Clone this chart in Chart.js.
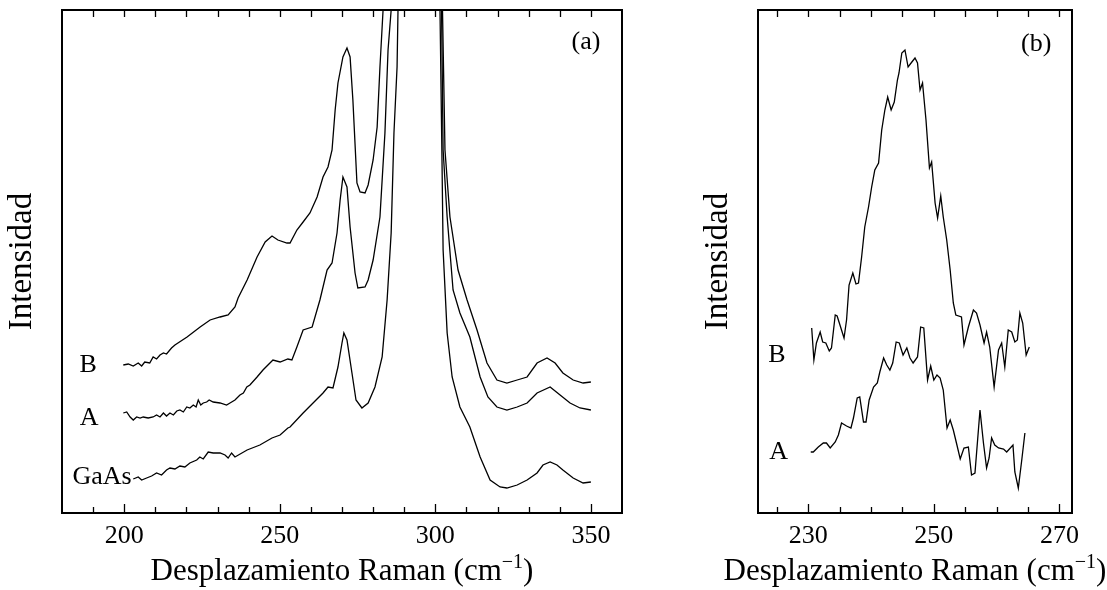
<!DOCTYPE html>
<html>
<head>
<meta charset="utf-8">
<script src="https://cdn.jsdelivr.net/npm/chart.js@4"></script>
<style>
  html, body { margin: 0; padding: 0; background: #fff; }
  #wrap { position: relative; width: 1107px; height: 590px; }
  #ca { position: absolute; left: 0; top: 0; }
  #cb { position: absolute; left: 680px; top: 0; }
</style>
</head>
<body>
<div id="wrap">
  <canvas id="ca" width="650" height="590"></canvas>
  <canvas id="cb" width="427" height="590"></canvas>
</div>
<script>
// Panel (a): espectros Raman completos (intensidad en unidades arbitrarias)
const aB_x = [199.7,201.3,202.9,204.5,205.6,206.6,208.2,209.3,210.4,211.5,212.6,213.6,215.2,216.3,220.2,224.4,227.6,230.8,233.4,235.6,236.6,239.5,242.7,245.3,247.5,249.4,252.3,253.3,255.5,257.5,259.7,262,263.9,265.5,266.8,267.8,268.7,270.3,271.6,272.6,273.5,274.8,275.8,277.4,278.4,280,281.3,282.2,283.2,285,292,299,302.3,303.1,304.7,307.3,310.2,313.4,316.6,319.8,323,326.3,329.5,332.7,335.9,338.5,341,344.3,347.5,350];
const aB_y = [148,149,147,150,147,151,150,156,154,158,160,159,165,168,176,186,193,196,198,206,215,233,256,271,277,273,270,270,283,291,300,316,336,346,363,403,430,456,465,456,413,330,321,320,328,353,386,446,503,650,1100,650,503,363,296,243,213,183,150,133,130,133,136,150,155,150,140,133,130,131];

const aA_x = [199.7,200.8,201.9,202.9,204,205.1,206.1,207.7,209.3,210.4,211.5,212.6,213.6,214.7,215.8,216.9,217.9,219,220.1,221.1,222.2,223.1,223.8,224.6,225.4,226.5,227.3,228.6,230.8,232.9,234,235.6,237.2,238.3,239.4,240.4,242.7,244.6,247.8,250.1,252.6,253.9,255.5,257.5,260.4,262.9,265.2,266.8,268.4,269.4,270.3,271.6,272.6,274.2,275.1,277.4,278.4,280,282.2,283.8,284.8,285.8,287,293,299.5,302,302.5,303.8,305.7,307.9,311.1,314.4,316.9,319.8,323,326.3,329.5,332.7,336.9,340.1,343.3,346.5,350];
const aA_y = [100,101,96,93,96,95,96,95,96,98,96,100,97,100,98,102,103,101,106,105,108,106,113,108,110,111,113,111,110,108,110,113,118,120,126,128,136,143,153,151,154,153,166,183,186,213,243,250,280,313,336,326,286,240,225,226,233,253,296,380,463,503,650,1100,650,503,363,296,223,200,176,136,116,106,103,106,110,120,126,118,110,105,103];

const aG_x = [202.9,204.5,205.6,207.2,208.8,210.4,212,213.6,214.7,216.3,217.9,219.5,221.1,223.3,224.3,225.4,227,228.6,230.8,232.4,233.4,234.5,235.6,239.5,243.6,247.5,250.1,252.6,253.3,257.5,260.7,263.9,265.5,267.1,268.7,270,270.6,271.6,273.2,274.5,276.4,278.4,280.6,282.9,284.5,285.8,286.7,287.7,288,289,294,299.5,301.5,302.1,302.5,303.8,305.4,307.9,311.1,314.4,317.6,320.8,323,326.3,329.5,332.7,334.6,336.9,339.1,341,344.3,347.5,350];
const aG_y = [34,36,33,35,37,40,38,43,45,44,47,46,50,53,56,54,61,60,60,58,55,60,56,63,68,75,78,85,86,100,110,120,126,125,146,170,180,173,140,113,105,110,126,156,213,280,380,446,503,650,1100,650,503,363,263,180,136,106,86,56,33,26,25,28,33,40,48,51,48,43,35,30,31];

// Panel (b): zona 230-265 cm-1
const bB_x = [230.55,230.9,231.3,231.9,232.3,232.8,233.35,233.7,234.3,234.6,235.2,235.7,236.1,236.5,237.1,237.6,238,238.5,239,239.6,240.1,240.6,241.2,241.7,242.2,242.65,243.2,243.7,244.2,244.45,244.9,245.4,245.9,246.5,247,247.4,247.8,248.2,248.75,249.3,249.65,250.2,250.6,251.1,251.5,252.05,252.6,253.1,253.5,254.4,254.8,255.5,256.3,256.8,257.35,258,258.4,258.9,259.6,260.3,260.8,261.3,261.85,262.4,262.9,263.3,263.7,264.15,264.7,265.2];
const bB_y = [185,153,170,181,171,170,162,165,198,197,185,175,193,228,240,229,230,256,286,306,326,343,350,383,403,416,403,411,433,440,460,463,446,451,455,450,423,430,393,345,351,310,295,317,296,273,243,210,198,196,168,186,203,200,188,170,181,166,126,163,170,146,183,181,171,173,200,190,158,166];

const bA_x = [230.4,230.8,231.6,232.4,232.9,233.5,234.3,234.8,235.3,236.1,236.8,237.2,237.8,238.2,238.8,239.2,239.7,240.4,241,241.4,242,242.5,243,243.45,244,244.5,245.1,245.7,246.2,246.7,247.4,247.9,248.4,249,249.5,250,250.5,251,251.5,252.1,252.6,253.1,253.6,254.2,254.8,255.5,256,256.55,257.35,257.9,258.4,258.8,259.2,259.7,260.3,261.1,261.6,262.6,262.9,263.45,264,264.5];
const bA_y = [61,61,66,70,70,65,71,78,90,87,85,95,115,116,91,91,113,126,130,141,155,148,143,150,171,170,158,165,155,150,156,186,185,133,147,133,138,135,123,85,93,83,70,54,65,66,38,40,103,70,45,55,75,68,65,64,61,68,41,25,53,80];

// Etiquetas y marcas de los ejes
const aTickLabels = [200, 250, 300, 350];
const aTickMarks = [190, 200, 210, 220, 230, 240, 250, 260, 270, 280, 290, 300, 310, 320, 330, 340, 350];
const bTickLabels = [230, 250, 270];
const bTickMarks = [225, 230, 235, 240, 245, 250, 255, 260, 265, 270];

// Rótulos dentro de cada panel (posición en unidades de datos)
const aNoteText = ['B', 'A', 'GaAs', '(a)'];
const aNoteX = [188.4, 188.7, 192.9, 348.4];
const aNoteY = [148, 95, 36, 471];
const bNoteText = ['B', 'A', '(b)'];
const bNoteX = [225.0, 225.3, 266.3];
const bNoteY = [158, 61, 469];

const SERIF = '"Liberation Serif", "Times New Roman", serif';
Chart.defaults.font.family = SERIF;
Chart.defaults.color = '#000';

function toPoints(xs, ys) {
    return xs.map((x, i) => ({ x: x, y: ys[i] }));
}

// Título del eje x con superíndice real: "Desplazamiento Raman (cm^-1)"
function drawXTitle(ctx, cx, baseY) {
    const main = 'Desplazamiento Raman (cm';
    const sup = '\u22121';
    const close = ')';
    ctx.font = '31px ' + SERIF;
    const w1 = ctx.measureText(main).width;
    const w3 = ctx.measureText(close).width;
    ctx.font = '20px ' + SERIF;
    const w2 = ctx.measureText(sup).width;
    let x0 = cx - (w1 + w2 + w3) / 2;
    ctx.textAlign = 'left';
    ctx.textBaseline = 'alphabetic';
    ctx.font = '31px ' + SERIF;
    ctx.fillText(main, x0, baseY);
    ctx.font = '20px ' + SERIF;
    ctx.fillText(sup, x0 + w1, baseY - 12);
    ctx.font = '31px ' + SERIF;
    ctx.fillText(close, x0 + w1 + w2, baseY);
}

// Marco, marcas de graduación hacia dentro y rótulos
const framePlugin = {
    id: 'frame',
    afterDatasetsDraw(chart, args, opts) {
        const { ctx, chartArea: a } = chart;
        const x = chart.scales.x, y = chart.scales.y;
        ctx.save();
        ctx.strokeStyle = '#000';
        ctx.lineWidth = 1.3;
        x.ticks.forEach(t => {
            const px = Math.round(x.getPixelForValue(t.value)) + 0.5;
            const major = opts.major.includes(t.value);
            ctx.beginPath();
            ctx.moveTo(px, a.bottom);
            ctx.lineTo(px, a.bottom - (major ? 9 : 6));
            ctx.moveTo(px, a.top);
            ctx.lineTo(px, a.top + 7);
            ctx.stroke();
        });
        ctx.lineWidth = 2;
        ctx.strokeRect(a.left, a.top, a.right - a.left, a.bottom - a.top);
        ctx.fillStyle = '#000';
        ctx.font = '26px ' + SERIF;
        ctx.textAlign = 'center';
        ctx.textBaseline = 'middle';
        opts.text.forEach((s, i) => {
            ctx.fillText(s, x.getPixelForValue(opts.nx[i]), y.getPixelForValue(opts.ny[i]));
        });
        drawXTitle(ctx, (a.left + a.right) / 2, 580);
        ctx.restore();
    }
};

function makeChart(id, series, cfg) {
    return new Chart(document.getElementById(id), {
        type: 'line',
        data: {
            datasets: series.map(s => ({
                data: toPoints(s[0], s[1]),
                borderColor: '#000',
                borderWidth: 1.3,
                pointRadius: 0,
                tension: 0,
                fill: false
            }))
        },
        options: {
            responsive: false,
            animation: false,
            layout: { padding: { left: 0, top: 10, right: cfg.padRight, bottom: 0 } },
            plugins: {
                legend: { display: false },
                tooltip: { enabled: false },
                frame: { major: cfg.ticks, text: cfg.noteText, nx: cfg.noteX, ny: cfg.noteY }
            },
            scales: {
                x: {
                    type: 'linear',
                    min: cfg.min,
                    max: cfg.max,
                    grid: { display: false },
                    border: { display: false },
                    afterBuildTicks(s) { s.ticks = cfg.marks.map(v => ({ value: v })); },
                    ticks: {
                        autoSkip: false,
                        maxRotation: 0,
                        padding: 0,
                        font: { size: 26 },
                        callback: v => cfg.ticks.includes(v) ? String(v) : ''
                    },
                    title: { display: false },
                    afterFit(s) { s.height = 77; }
                },
                y: {
                    min: 0,
                    max: 503,
                    grid: { display: false },
                    border: { display: false },
                    ticks: { display: false },
                    title: {
                        display: true,
                        text: 'Intensidad',
                        font: { size: 33 },
                        padding: { top: cfg.yTitlePad, bottom: 0 }
                    },
                    afterFit(s) { s.width = cfg.yWidth; }
                }
            }
        },
        plugins: [framePlugin]
    });
}

makeChart('ca', [[aB_x, aB_y], [aA_x, aA_y], [aG_x, aG_y]], {
    min: 180, max: 360, marks: aTickMarks, ticks: aTickLabels,
    yWidth: 62, yTitlePad: 3, padRight: 28,
    noteText: aNoteText, noteX: aNoteX, noteY: aNoteY
});

makeChart('cb', [[bB_x, bB_y], [bA_x, bA_y]], {
    min: 222, max: 272, marks: bTickMarks, ticks: bTickLabels,
    yWidth: 78, yTitlePad: 19, padRight: 35,
    noteText: bNoteText, noteX: bNoteX, noteY: bNoteY
});
</script>
</body>
</html>
